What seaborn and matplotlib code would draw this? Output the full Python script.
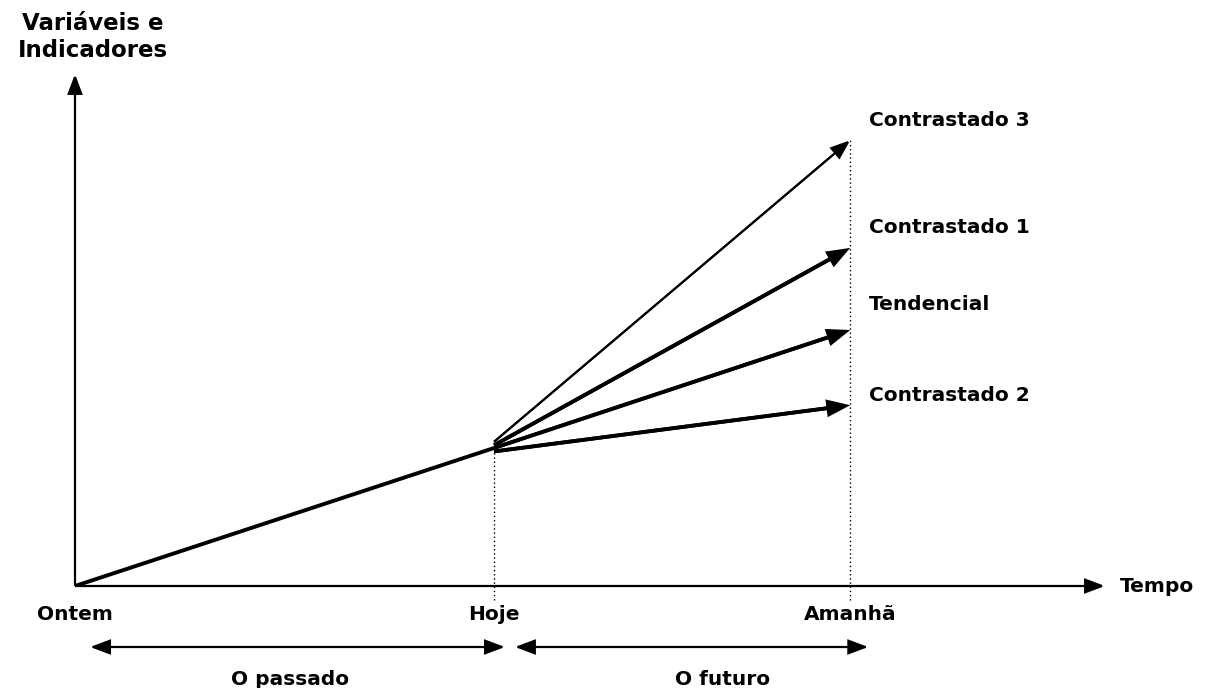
import numpy as np
import pandas as pd
import seaborn as sns
import matplotlib.pyplot as plt

# time points (Ontem = 0, Hoje = 1)
time_labels = ['Ontem', 'Hoje', 'Amanhã']
time_points = [0.0, 1.0, 1.85]

# past trend: from Ontem to Hoje
past_x = [0.0, 1.0]
past_y = [0.0, 1.0]

# scenarios starting at Hoje and ending at Amanhã
scenarios = ['Contrastado 3', 'Contrastado 1', 'Tendencial', 'Contrastado 2']
start_y = [1.045, 1.02, 1.0, 0.975]
end_y = [3.23, 2.45, 1.855, 1.31]
widths = [1.5, 2.7, 2.7, 2.7]
label_y = [3.37, 2.6, 2.04, 1.38]

periods = ['O passado', 'O futuro']

sns.set_style('white')
plt.rcParams['font.family'] = ['DejaVu Sans']
plt.rcParams['font.weight'] = 'bold'
plt.rcParams['text.color'] = 'black'

fig = plt.figure(figsize=(12.05, 6.88), dpi=100)
ax = fig.add_axes([75/1205, 102/688, 1030/1205, 512/688])
ax.set_xlim(0, 2.458)
ax.set_ylim(0, 3.71)
ax.axis('off')

fs = 14.5
head = dict(arrowstyle='-|>,head_length=1.2,head_width=0.45', color='black',
            shrinkA=0, shrinkB=0, joinstyle='miter', capstyle='butt')

# axes drawn as arrows
ax.annotate('', xy=(1, 0), xytext=(0, 0), xycoords='axes fraction',
            arrowprops=dict(head, lw=1.6), annotation_clip=False)
ax.annotate('', xy=(0, 1), xytext=(0, 0), xycoords='axes fraction',
            arrowprops=dict(head, lw=1.6), annotation_clip=False)

# dotted guides at Hoje and Amanhã
ax.plot([time_points[1]] * 2, [-0.1, past_y[1]], color='black', lw=1,
        ls=(0, (1, 2)), clip_on=False)
ax.plot([time_points[2]] * 2, [-0.1, max(end_y)], color='black', lw=1,
        ls=(0, (1, 2)), clip_on=False)

# past line
df_past = pd.DataFrame({'t': past_x, 'v': past_y})
sns.lineplot(data=df_past, x='t', y='v', color='black', lw=2.8, ax=ax,
             solid_capstyle='butt')

# scenario lines with arrow heads
for name, s, e, w, ly in zip(scenarios, start_y, end_y, widths, label_y):
    t_end = time_points[2] - 0.04
    frac = (t_end - time_points[1]) / (time_points[2] - time_points[1])
    df_s = pd.DataFrame({'t': [time_points[1], t_end], 'v': [s, s + (e - s) * frac]})
    sns.lineplot(data=df_s, x='t', y='v', color='black', lw=w, ax=ax,
                 solid_capstyle='butt')
    ax.annotate('', xy=(time_points[2], e), xytext=(time_points[1], s),
                arrowprops=dict(head, lw=w), annotation_clip=False)
    ax.text(time_points[2] + 0.045, ly, name, fontsize=fs, fontweight='bold',
            ha='left', va='center')

# time labels under x axis
for lab, t in zip(time_labels, time_points):
    ax.text(t, -0.21, lab, fontsize=fs, fontweight='bold', ha='center', va='center')

# period double arrows
dbl = dict(arrowstyle='<|-|>,head_length=1.2,head_width=0.45', color='black',
           lw=1.6, shrinkA=0, shrinkB=0, joinstyle='miter')
ax.annotate('', xy=(1.026, -0.442), xytext=(0.036, -0.442), arrowprops=dbl,
            annotation_clip=False)
ax.annotate('', xy=(1.893, -0.442), xytext=(1.05, -0.442), arrowprops=dbl,
            annotation_clip=False)
ax.text(0.513, -0.68, periods[0], fontsize=fs, fontweight='bold', ha='center', va='center')
ax.text(1.545, -0.68, periods[1], fontsize=fs, fontweight='bold', ha='center', va='center')

# axis titles
ax.text(1.0 + 15/1030, 0, 'Tempo', transform=ax.transAxes, fontsize=fs,
        fontweight='bold', ha='left', va='center')
fig.text(93/1205, 1 - 37/688, 'Variáveis e\nIndicadores', fontsize=16.5,
         fontweight='bold', ha='center', va='center', multialignment='center',
         linespacing=1.25)

plt.savefig('out.png', dpi=100)
plt.close('all')
